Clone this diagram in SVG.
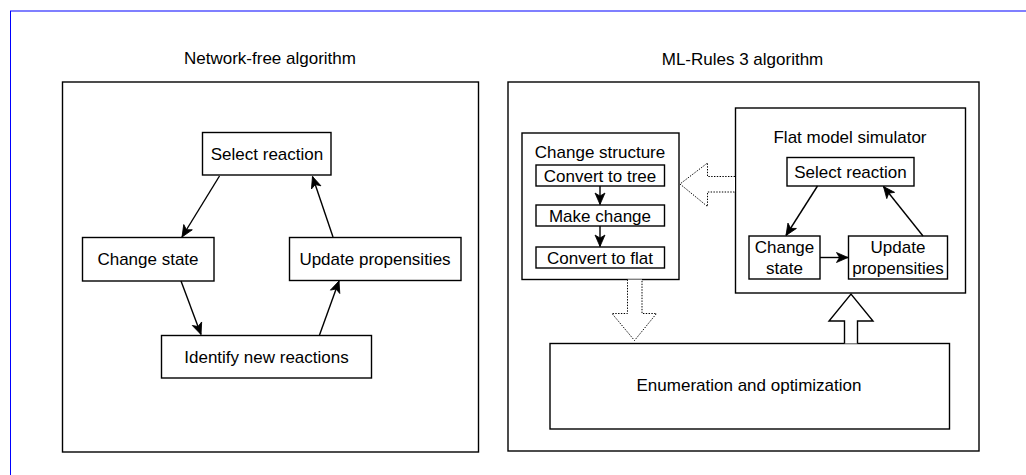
<svg xmlns="http://www.w3.org/2000/svg" width="1026" height="475" viewBox="0 0 1026 475">
  <style>
    .box { fill: #ffffff; stroke: #000000; stroke-width: 1.4; }
    .lbl { font-family: "Liberation Sans", Arial, sans-serif; font-size: 17px; fill: #000000; text-anchor: middle; }
    .edge { fill: none; stroke: #000000; stroke-width: 1.4; marker-end: url(#arrow); }
    .dotted { fill: #ffffff; stroke: #000000; stroke-width: 1; stroke-dasharray: 1.4 1.4; }
    .block { fill: #ffffff; stroke: #000000; stroke-width: 1.4; }
  </style>
  <defs>
    <marker id="arrow" markerUnits="userSpaceOnUse" markerWidth="14" markerHeight="14" viewBox="-13 -7 14 14" refX="0" refY="0" orient="auto">
      <path d="M0,0 L-11.5,-5 L-8.5,0 L-11.5,5 Z" fill="#000000" stroke="#000000" stroke-width="0.8"/>
    </marker>
  </defs>

  <!-- page frame -->
  <rect x="10.5" y="11" width="1100" height="1000" fill="none" stroke="#0000ff" stroke-width="1"/>

  <!-- left panel: network-free algorithm -->
  <g id="network-free">
    <text class="lbl" x="270" y="64">Network-free algorithm</text>
    <rect class="box" x="62.5" y="82" width="416" height="370"/>
  </g>
  <g id="nf-select">
    <rect class="box" x="202.5" y="132.5" width="128.5" height="42.5"/>
    <text class="lbl" x="267" y="160">Select reaction</text>
  </g>
  <g id="nf-change">
    <rect class="box" x="82.5" y="237.5" width="131.5" height="43.5"/>
    <text class="lbl" x="148" y="265">Change state</text>
  </g>
  <g id="nf-update">
    <rect class="box" x="289.5" y="237.5" width="171.5" height="43"/>
    <text class="lbl" x="375" y="264.5">Update propensities</text>
  </g>
  <g id="nf-identify">
    <rect class="box" x="161.5" y="335.5" width="210" height="42.5"/>
    <text class="lbl" x="266.5" y="363">Identify new reactions</text>
  </g>

  <!-- right panel: ML-Rules 3 algorithm -->
  <g id="ml-rules">
    <text class="lbl" x="742.5" y="65">ML-Rules 3 algorithm</text>
    <rect class="box" x="508" y="82" width="471" height="369"/>
  </g>
  <g id="change-structure">
    <rect class="box" x="522" y="133" width="157" height="146.5"/>
    <text class="lbl" x="600" y="158">Change structure</text>
  </g>
  <g id="cs-tree">
    <rect class="box" x="536" y="165" width="128.5" height="21"/>
    <text class="lbl" x="600" y="181.5">Convert to tree</text>
  </g>
  <g id="cs-make">
    <rect class="box" x="536" y="205" width="128.5" height="21"/>
    <text class="lbl" x="600" y="221.5">Make change</text>
  </g>
  <g id="cs-flat">
    <rect class="box" x="536" y="247" width="128.5" height="21"/>
    <text class="lbl" x="600" y="263.5">Convert to flat</text>
  </g>
  <g id="flat-simulator">
    <rect class="box" x="735.5" y="108" width="230" height="185"/>
    <text class="lbl" x="850" y="143">Flat model simulator</text>
  </g>
  <g id="fs-select">
    <rect class="box" x="787" y="157.5" width="127" height="28.5"/>
    <text class="lbl" x="850.5" y="177.5">Select reaction</text>
  </g>
  <g id="fs-change">
    <rect class="box" x="749" y="236" width="71" height="43"/>
    <text class="lbl" x="784.5" y="252.5">Change</text>
    <text class="lbl" x="784.5" y="273.5">state</text>
  </g>
  <g id="fs-update">
    <rect class="box" x="848.5" y="236" width="99" height="43"/>
    <text class="lbl" x="898" y="252.5">Update</text>
    <text class="lbl" x="898" y="273.5">propensities</text>
  </g>
  <g id="enumeration">
    <rect class="box" x="550" y="343.5" width="399.5" height="85.5"/>
    <text class="lbl" x="749" y="391">Enumeration and optimization</text>
  </g>

  <!-- connectors -->
  <g id="connectors">
    <path class="edge" d="M219.5,176 L182,237"/>
    <path class="edge" d="M333,237 L312.5,176.5"/>
    <path class="edge" d="M181,281 L201,334.5"/>
    <path class="edge" d="M319.5,335 L339,281"/>

    <path class="edge" d="M600,186 L600,204.5"/>
    <path class="edge" d="M600,226 L600,246.5"/>

    <path class="edge" d="M817.5,186 L786,235.5"/>
    <path class="edge" d="M923,236 L883.5,186.5"/>
    <path class="edge" d="M820,257.5 L848,257.5"/>

    <!-- dotted block arrows -->
    <path class="dotted" d="M735,176.5 L707.5,176.5 L707.5,163 L680,184 L707.5,206.5 L707.5,192 L735,192"/>
    <path class="dotted" d="M627.5,279.5 L627.5,313.5 L612,313.5 L634.5,340.5 L656.5,313.5 L642,313.5 L642,279.5"/>

    <!-- solid block arrow -->
    <path class="block" d="M844.5,343.5 L844.5,321 L829,321 L851,294 L873,321 L857.5,321 L857.5,343.5"/>
  </g>
</svg>
